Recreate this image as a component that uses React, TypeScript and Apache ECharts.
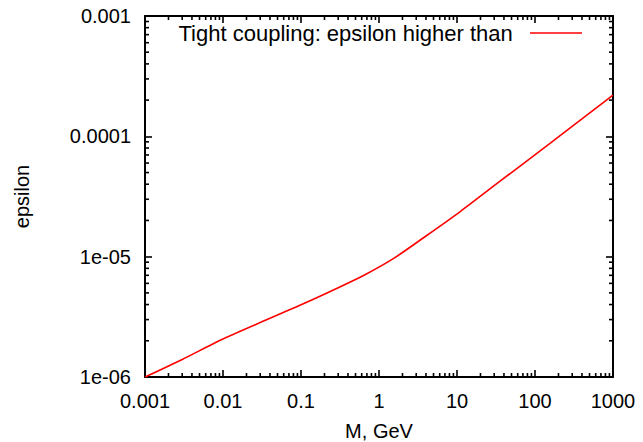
import React, { useEffect, useRef } from "react";
import * as echarts from "echarts";

const SERIES_NAME = "Tight coupling: epsilon higher than";
const massGeV = [0.001, 0.003, 0.01, 0.1, 0.3, 0.662, 1.525, 4.09, 10.9, 35.6, 155.7, 1000];
const epsilon = [1.0e-6, 1.4e-6, 2.07e-6, 3.98e-6, 5.52e-6, 7.08e-6, 9.62e-6, 1.5e-5, 2.36e-5, 4.24e-5, 8.74e-5, 2.2e-4];
const xTickLabels = ["0.001", "0.01", "0.1", "1", "10", "100", "1000"];
const yTickLabels = ["1e-06", "1e-05", "0.0001", "0.001"];

const X_MIN = 0.001;
const X_MAX = 1000;
const Y_MIN = 1e-6;
const Y_MAX = 1e-3;

function minorTicks(lo: number, hi: number): number[] {
  const out: number[] = [];
  for (let d = lo; d < hi * 0.999; d *= 10) {
    for (let k = 2; k <= 9; k++) out.push(d * k);
  }
  return out;
}

const FONT = "Liberation Sans, Arial, Helvetica, sans-serif";

export default function App() {
  const ref = useRef<HTMLDivElement>(null);
  useEffect(() => {
    if (!ref.current) return;
    const chart = echarts.init(ref.current, undefined, { renderer: "svg", width: 643, height: 442 });
    const xLabel = (v: number) => xTickLabels[Math.round(Math.log10(v)) + 3] ?? "";
    const yLabel = (v: number) => yTickLabels[Math.round(Math.log10(v)) + 6] ?? "";
    const tickStyle = { color: "#000", width: 1.6 };
    const lineStyle = { color: "#000", width: 2 };
    const xMinor = minorTicks(X_MIN, X_MAX).map((v) => [v, Y_MIN]);
    const yMinor = minorTicks(Y_MIN, Y_MAX).map((v) => [X_MIN, v]);
    const MINOR = 4;
    const MAJOR = 7;
    const tickLine = { stroke: "#000", lineWidth: 1.6 };
    const xTickItem = (len: number) => (_p: any, api: any) => {
      const x = api.value(0);
      const b = api.coord([x, Y_MIN]);
      const t = api.coord([x, Y_MAX]);
      return {
        type: "group",
        children: [
          { type: "line", shape: { x1: b[0], y1: b[1], x2: b[0], y2: b[1] - len }, style: tickLine },
          { type: "line", shape: { x1: t[0], y1: t[1], x2: t[0], y2: t[1] + len }, style: tickLine },
        ],
      };
    };
    const yTickItem = (len: number) => (_p: any, api: any) => {
      const y = api.value(1);
      const l = api.coord([X_MIN, y]);
      const r = api.coord([X_MAX, y]);
      return {
        type: "group",
        children: [
          { type: "line", shape: { x1: l[0], y1: l[1], x2: l[0] + len, y2: l[1] }, style: tickLine },
          { type: "line", shape: { x1: r[0], y1: r[1], x2: r[0] - len, y2: r[1] }, style: tickLine },
        ],
      };
    };
    const axisCommon = {
      type: "log",
      logBase: 10,
      axisLine: { show: true, lineStyle },
      axisTick: { show: true, inside: true, length: MAJOR, lineStyle: tickStyle },
      splitLine: { show: false },
    };
    chart.setOption({
      animation: false,
      backgroundColor: "#fff",
      textStyle: { fontFamily: FONT },
      grid: { left: 145, right: 30, top: 16, bottom: 65, containLabel: false, outerBoundsMode: "none" },
      legend: {
        data: [SERIES_NAME],
        right: 56,
        top: 17,
        align: "right",
        itemWidth: 52,
        itemHeight: 14,
        icon: "path://M0,6 L52,6 L52,7.6 L0,7.6 Z",
        formatter: (name: string) => name + "\u00a0\u00a0",
        textStyle: { fontSize: 22, color: "#000", fontFamily: FONT },
      },
      xAxis: [
        {
          ...axisCommon,
          min: X_MIN,
          max: X_MAX,
          position: "bottom",
          name: "M, GeV",
          nameLocation: "middle",
          nameGap: 44,
          nameTextStyle: { fontSize: 20, color: "#000", fontFamily: FONT },
          axisLabel: { formatter: xLabel, fontSize: 20, color: "#000", margin: 14, fontFamily: FONT, showMinLabel: true, showMaxLabel: true },
        },
        {
          ...axisCommon,
          min: X_MIN,
          max: X_MAX,
          position: "top",
          axisLabel: { show: false },
        },
      ],
      yAxis: [
        {
          ...axisCommon,
          min: Y_MIN,
          max: Y_MAX,
          position: "left",
          name: "epsilon",
          nameLocation: "middle",
          nameGap: 113,
          nameTextStyle: { fontSize: 20, color: "#000", fontFamily: FONT },
          axisLabel: { formatter: yLabel, fontSize: 20, color: "#000", margin: 14, fontFamily: FONT, showMinLabel: true, showMaxLabel: true },
        },
        {
          ...axisCommon,
          min: Y_MIN,
          max: Y_MAX,
          position: "right",
          axisLabel: { show: false },
        },
      ],
      series: [
        {
          name: SERIES_NAME,
          type: "line",
          xAxisIndex: 0,
          yAxisIndex: 0,
          data: massGeV.map((m, i) => [m, epsilon[i]]),
          showSymbol: false,
          symbol: "none",
          smooth: 0.25,
          lineStyle: { color: "#ff0000", width: 1.6 },
          itemStyle: { color: "#ff0000" },
          z: 5,
        },
        {
          name: "xMinor",
          type: "custom",
          coordinateSystem: "cartesian2d",
          xAxisIndex: 0,
          yAxisIndex: 0,
          silent: true,
          clip: false,
          z: 10,
          encode: { x: 0, y: 1 },
          data: xMinor,
          renderItem: xTickItem(MINOR),
        },
        {
          name: "yMinor",
          type: "custom",
          coordinateSystem: "cartesian2d",
          xAxisIndex: 0,
          yAxisIndex: 0,
          silent: true,
          clip: false,
          z: 10,
          encode: { x: 0, y: 1 },
          data: yMinor,
          renderItem: yTickItem(MINOR),
        },
      ],
    });
    return () => chart.dispose();
  }, []);
  return (
    <div
      ref={ref}
      style={{ position: "fixed", left: 0, top: 0, width: 643, height: 442, background: "#fff" }}
    />
  );
}
